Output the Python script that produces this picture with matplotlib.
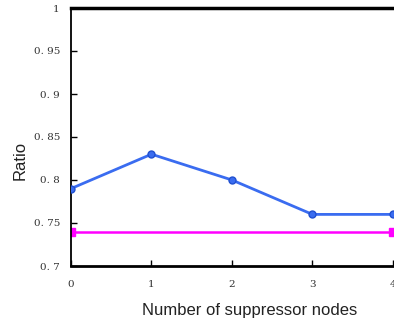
import matplotlib
matplotlib.use("Agg")
import matplotlib.pyplot as plt
from matplotlib.ticker import FuncFormatter

x_nodes = [0, 1, 2, 3, 4]
ratio_blue = [0.79, 0.83, 0.80, 0.76, 0.76]
ratio_magenta = [0.74, 0.74]
x_magenta = [0, 4]
y_ticks = [0.7, 0.75, 0.8, 0.85, 0.9, 0.95, 1.0]
x_ticks = [0, 1, 2, 3, 4]

fig = plt.figure(figsize=(3.94, 3.23), dpi=100)
# axes extends past the right edge (reference is cropped)
ax = fig.add_axes([71/394, 1-266/323, 338/394, (266-8)/323])

ax.plot(x_nodes, ratio_blue, color="#3a6cf0", lw=2, marker="o", ms=5,
        mfc="#3a6cf0", mec="#2050d0", zorder=3)
ax.plot(x_magenta, ratio_magenta, color="#ff00ff", lw=1.8, marker="s", ms=6,
        zorder=2)

ax.set_xlim(0, 4.2)
ax.set_ylim(0.7, 1.0)
ax.set_xticks(x_ticks)
ax.set_yticks(y_ticks)

def yfmt(v, pos):
    if abs(v - 1.0) < 1e-9:
        return "1"
    s = ("%.2f" % v).rstrip("0")
    return s.replace(".", ". ")

ax.yaxis.set_major_formatter(FuncFormatter(yfmt))
ax.tick_params(direction="in", length=4, width=1, colors="black",
               labelcolor="#333333", labelsize=7.5)
ax.tick_params(axis="x", pad=10)
ax.tick_params(axis="y", pad=8)
for lab in ax.get_xticklabels() + ax.get_yticklabels():
    lab.set_fontfamily("DejaVu Serif")

ax.spines["right"].set_visible(False)
ax.spines["top"].set_linewidth(2.5)
ax.spines["left"].set_linewidth(1.3)
ax.spines["bottom"].set_linewidth(2.0)

fig.text(20/394, 1-160/323, "Ratio", rotation=90, ha="center", va="center",
         fontsize=12, family="Liberation Sans", color="#222222")
fig.text(250/394, 1-310/323, "Number of suppressor nodes", ha="center",
         va="center", fontsize=12, family="Liberation Sans", color="#222222")

fig.savefig("out.png", dpi=100)
